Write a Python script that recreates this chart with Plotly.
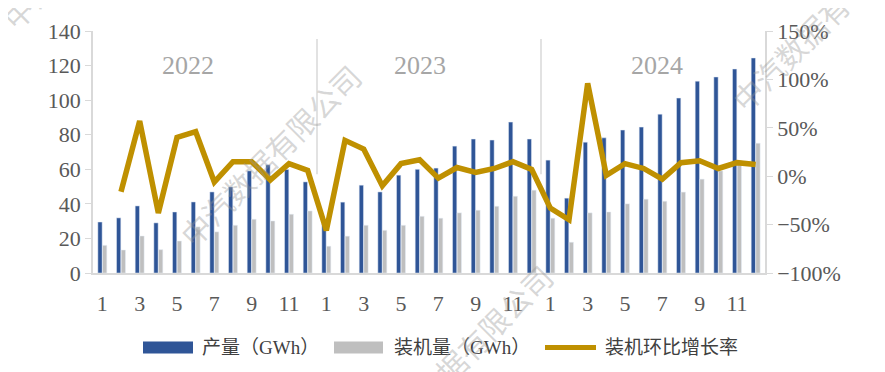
import plotly.graph_objects as go

months = [1, 2, 3, 4, 5, 6, 7, 8, 9, 10, 11, 12] * 3
years = ["2022", "2023", "2024"]
tick_labels = ["1", "3", "5", "7", "9", "11"] * 3

production = [29.5, 31.9, 38.8, 29.0, 35.3, 41.1, 46.9, 49.8, 59.1, 62.6, 59.9, 52.7,
              28.6, 41.0, 50.8, 46.9, 56.6, 60.0, 60.7, 73.4, 77.5, 76.9, 87.3, 77.5,
              65.3, 43.3, 75.7, 78.2, 82.7, 84.4, 91.9, 101.2, 111.0, 113.4, 118.0, 124.4]
installed = [16.0, 13.3, 21.4, 13.5, 18.5, 26.7, 23.8, 27.6, 31.1, 30.1, 34.0, 35.9,
             15.5, 21.3, 27.6, 24.7, 27.6, 32.8, 31.7, 34.8, 36.3, 38.6, 44.4, 47.9,
             31.7, 17.8, 34.8, 35.3, 40.0, 42.7, 41.5, 46.8, 54.3, 59.1, 65.0, 75.1]
mom_growth = [None, -16, 57, -38, 40, 46, -6, 15, 15, -4, 13, 6,
              -56, 37, 28, -10, 13, 17, -2, 9, 4, 8, 15, 7,
              -33, -45, 96, 1, 13, 8, -3, 14, 16, 8, 14, 12]
series_names = ["产量（GWh）", "装机量（GWh）", "装机环比增长率"]

x = list(range(len(months)))
tick_vals = [i for i in x if months[i] % 2 == 1]

BLUE = "#2F5597"
GRAY = "#BFBFBF"
GOLD = "#BF9000"
AXIS = "#D9D9D9"
TXT = "#595959"
SERIF = "Liberation Serif, Times New Roman, Noto Sans CJK SC, serif"

# page has an 8px body margin; plot area target: x 93..765, y 31..272.7
L, T, PW, PH = 85, 23, 672, 241.7
W, H = 885, 372
R = W - L - PW
B = H - T - PH


def px(X):
    return (X - 8 - L) / PW


def py(Y):
    return 1 - (Y - 8 - T) / PH


fig = go.Figure()
fig.add_trace(go.Bar(x=x, y=production, name=series_names[0], marker_color=BLUE))
fig.add_trace(go.Bar(x=x, y=installed, name=series_names[1], marker_color=GRAY))
fig.add_trace(go.Scatter(x=x, y=mom_growth, name=series_names[2], yaxis="y2",
                         mode="lines", line=dict(color=GOLD, width=5.5),
                         connectgaps=False))

# year separators and labels
for b in [11.5, 23.5]:
    fig.add_shape(type="line", xref="x", yref="paper", x0=b, x1=b,
                  y0=py(174), y1=py(39), line=dict(color=AXIS, width=1.5))
year_pos = [4.6, 17.0, 29.7]
for yr, xp in zip(years, year_pos):
    fig.add_annotation(x=xp, y=120.3, xref="x", yref="y", text=yr, showarrow=False,
                       font=dict(family=SERIF, size=26, color="#A6A6A6"))

# manual legend
fig.add_shape(type="rect", xref="paper", yref="paper", x0=px(143), x1=px(193),
              y0=py(353), y1=py(341), fillcolor=BLUE, line=dict(width=0))
fig.add_shape(type="rect", xref="paper", yref="paper", x0=px(334), x1=px(383),
              y0=py(353), y1=py(341), fillcolor=GRAY, line=dict(width=0))
fig.add_shape(type="line", xref="paper", yref="paper", x0=px(545), x1=px(596),
              y0=py(347), y1=py(347), line=dict(color=GOLD, width=5))
for tx, X in zip(series_names, [200, 392, 603]):
    fig.add_annotation(x=px(X), y=py(347), xref="paper", yref="paper", text=tx,
                       showarrow=False, xanchor="left", yanchor="middle",
                       font=dict(family=SERIF, size=19, color="#404040"))

# watermarks
wm = "中汽数据有限公司"
for (wx, wy) in [(270, 155), (462, 355), (822, 20), (92, -62)]:
    fig.add_annotation(x=px(wx), y=py(wy), xref="paper", yref="paper",
                       xanchor="center", yanchor="middle",
                       text=wm, showarrow=False, textangle=-45,
                       font=dict(family="Noto Sans CJK SC", size=30,
                                 color="rgba(150,150,150,0.38)"))

fig.update_layout(
    width=W, height=H,
    margin=dict(l=L, r=R, t=T, b=B, autoexpand=False),
    paper_bgcolor="white", plot_bgcolor="white",
    barmode="group", bargap=0.5, bargroupgap=0.08,
    font=dict(family=SERIF, color=TXT, size=22),
    showlegend=False,
    xaxis=dict(range=[-0.5, 35.5], tickmode="array", tickvals=tick_vals, ticktext=tick_labels,
               showline=True, linecolor=AXIS, linewidth=1.5, ticks="outside", ticklen=10,
               tickcolor="rgba(0,0,0,0)", showgrid=False,
               zeroline=False, tickfont=dict(size=22, color=TXT)),
    yaxis=dict(range=[0, 140], dtick=20, showline=True, linecolor=AXIS, linewidth=1.5,
               ticks="outside", ticklen=6, tickcolor=AXIS, showgrid=False, zeroline=False,
               tickfont=dict(size=22, color=TXT)),
    yaxis2=dict(range=[-100, 150], dtick=50, overlaying="y", side="right", ticksuffix="%",
                showline=True, linecolor=AXIS, linewidth=1.5, ticks="outside", ticklen=6,
                tickcolor=AXIS, showgrid=False, zeroline=False,
                tickfont=dict(size=22, color=TXT)),
)

fig.write_html("out.html")
